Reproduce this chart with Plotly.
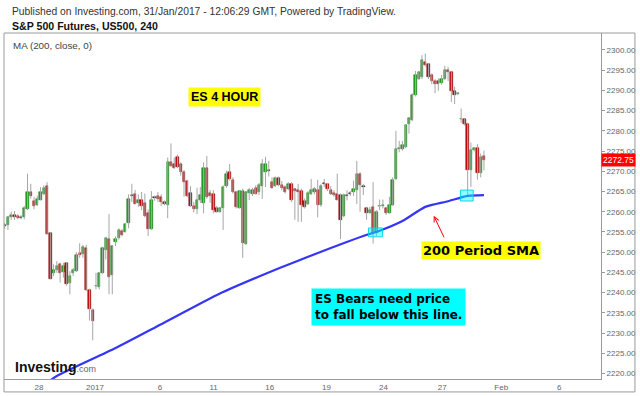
import plotly.graph_objects as go

# ---------------- data ----------------
idx = list(range(148))
opens = [2256.5, 2256.7, 2258.6, 2259.2, 2258.9, 2258.6, 2258.6, 2260.6, 2265.0, 2262.6,
         2261.6, 2263.0, 2264.5, 2266.3, 2254.8, 2244.8, 2245.7, 2247.0, 2245.0, 2247.4,
         2242.5, 2244.8, 2245.3, 2249.9, 2249.6, 2251.0, 2240.7, 2235.8, 2241.7, 2241.5,
         2244.9, 2250.5, 2253.2, 2244.3, 2252.4, 2253.5, 2255.3, 2255.1, 2257.3, 2264.0,
         2264.3, 2262.2, 2263.0, 2262.2, 2259.7, 2255.8, 2263.5, 2263.8, 2263.6, 2262.4,
         2261.6, 2272.2, 2271.8, 2273.6, 2271.8, 2269.8, 2267.6, 2264.6, 2261.4, 2260.6,
         2262.8, 2262.2, 2270.8, 2264.6, 2264.5, 2261.0, 2260.0, 2261.0, 2266.3, 2269.8,
         2267.9, 2264.9, 2261.0, 2265.1, 2252.1, 2264.6, 2264.5, 2265.9, 2264.9, 2266.3,
         2269.8, 2270.2, 2267.3, 2266.3, 2268.4, 2266.5, 2266.1, 2265.5, 2266.9, 2265.5,
         2265.3, 2265.1, 2262.7, 2261.9, 2264.5, 2264.9, 2265.3, 2261.6, 2267.0, 2266.8,
         2265.3, 2264.6, 2264.3, 2264.1, 2258.9, 2264.0, 2264.5, 2264.9, 2265.3, 2269.4,
         2266.2, 2260.8, 2259.7, 2261.2, 2254.7, 2261.3, 2261.4, 2260.8, 2259.6, 2261.6,
         2268.1, 2275.5, 2275.5, 2276.0, 2281.8, 2282.6, 2288.8, 2292.8, 2293.4, 2297.1,
         2296.4, 2293.8, 2292.3, 2292.3, 2291.8, 2292.8, 2295.0, 2294.5, 2289.9, 2289.2,
         2282.8, 2282.8, 2281.7, 2270.2, 2275.2, 2275.7, 2269.5, 2273.8]
highs = [2257.2, 2259.0, 2260.0, 2260.2, 2259.4, 2259.2, 2261.4, 2269.4, 2266.9, 2263.7,
         2264.0, 2266.1, 2266.5, 2267.3, 2255.0, 2247.0, 2247.8, 2247.4, 2247.4, 2247.6,
         2245.3, 2246.1, 2250.0, 2252.2, 2251.8, 2251.8, 2241.0, 2236.1, 2244.9, 2245.1,
         2251.4, 2253.7, 2259.4, 2251.8, 2253.9, 2255.9, 2255.7, 2257.1, 2264.3, 2266.9,
         2265.4, 2264.3, 2264.9, 2264.5, 2260.6, 2265.1, 2264.0, 2264.9, 2264.3, 2262.8,
         2273.4, 2276.9, 2273.4, 2274.1, 2272.2, 2270.3, 2267.9, 2266.3, 2262.4, 2265.9,
         2266.1, 2272.2, 2273.8, 2265.4, 2265.3, 2261.4, 2261.2, 2266.5, 2270.2, 2271.8,
         2268.5, 2265.1, 2265.4, 2265.7, 2265.1, 2265.9, 2265.9, 2266.5, 2267.1, 2273.0,
         2273.6, 2272.6, 2268.5, 2268.7, 2268.7, 2267.6, 2266.5, 2267.3, 2267.3, 2265.7,
         2266.9, 2265.7, 2263.3, 2265.1, 2268.1, 2266.1, 2267.9, 2266.9, 2268.1, 2267.1,
         2266.3, 2265.3, 2269.4, 2264.5, 2264.5, 2265.3, 2265.1, 2267.7, 2272.6, 2269.8,
         2266.9, 2261.2, 2261.2, 2267.3, 2260.4, 2263.0, 2263.0, 2261.2, 2263.7, 2268.5,
         2280.0, 2277.5, 2277.5, 2281.7, 2283.4, 2289.3, 2294.8, 2294.8, 2298.7, 2299.1,
         2296.7, 2294.2, 2292.8, 2293.0, 2293.8, 2296.1, 2295.8, 2294.6, 2290.9, 2289.6,
         2285.5, 2283.1, 2282.0, 2277.1, 2276.0, 2276.7, 2274.4, 2275.1]
lows = [2255.8, 2255.5, 2258.0, 2258.0, 2258.1, 2258.1, 2258.1, 2260.4, 2263.2, 2260.6,
        2261.4, 2262.8, 2264.1, 2254.3, 2243.3, 2244.1, 2244.9, 2242.5, 2243.7, 2241.7,
        2239.6, 2244.1, 2245.1, 2248.6, 2248.6, 2240.4, 2233.1, 2228.2, 2240.8, 2240.8,
        2244.7, 2248.2, 2239.6, 2239.6, 2251.5, 2253.1, 2253.9, 2254.9, 2255.9, 2262.4,
        2261.9, 2261.2, 2260.4, 2258.6, 2254.0, 2255.5, 2262.7, 2262.4, 2261.4, 2261.6,
        2258.4, 2271.1, 2270.6, 2270.8, 2268.9, 2263.7, 2263.6, 2261.2, 2259.8, 2259.4,
        2262.2, 2259.6, 2263.2, 2262.2, 2259.6, 2259.8, 2259.8, 2255.5, 2265.9, 2267.7,
        2264.5, 2260.8, 2260.8, 2248.6, 2251.8, 2262.9, 2263.9, 2264.3, 2264.1, 2263.2,
        2266.1, 2268.7, 2265.7, 2266.1, 2266.3, 2265.3, 2264.5, 2265.3, 2262.4, 2258.0,
        2257.5, 2257.5, 2260.8, 2261.6, 2264.1, 2264.3, 2258.6, 2261.2, 2266.1, 2265.1,
        2264.1, 2263.7, 2262.8, 2253.2, 2258.6, 2262.8, 2263.9, 2263.9, 2261.9, 2260.0,
        2264.1, 2258.0, 2259.5, 2252.1, 2253.9, 2260.4, 2260.8, 2259.2, 2259.5, 2261.4,
        2267.9, 2274.7, 2275.1, 2275.7, 2279.3, 2282.4, 2288.5, 2292.6, 2292.8, 2295.9,
        2292.8, 2291.5, 2289.3, 2289.9, 2291.4, 2292.6, 2292.3, 2287.1, 2286.6, 2288.9,
        2282.0, 2281.3, 2264.0, 2266.1, 2274.9, 2267.9, 2268.5, 2270.2]
closes = [2256.5, 2258.6, 2259.1, 2258.6, 2258.4, 2258.6, 2261.0, 2265.0, 2263.9, 2261.5,
          2263.2, 2264.9, 2265.9, 2254.5, 2243.3, 2245.7, 2246.7, 2244.8, 2246.5, 2242.1,
          2244.1, 2245.5, 2249.4, 2249.2, 2251.3, 2240.7, 2236.0, 2233.1, 2241.6, 2244.9,
          2251.0, 2253.5, 2243.9, 2251.6, 2253.3, 2255.5, 2254.3, 2256.9, 2263.2, 2264.0,
          2262.0, 2263.0, 2261.4, 2258.9, 2255.7, 2262.8, 2263.5, 2263.2, 2262.4, 2261.9,
          2272.2, 2271.4, 2270.8, 2271.0, 2269.8, 2267.3, 2263.8, 2261.4, 2260.6, 2263.0,
          2264.1, 2270.8, 2263.6, 2263.8, 2260.4, 2260.0, 2260.8, 2266.1, 2269.4, 2268.1,
          2264.9, 2261.2, 2265.1, 2252.2, 2264.9, 2265.4, 2265.3, 2264.5, 2266.5, 2271.9,
          2271.9, 2270.2, 2265.9, 2268.4, 2266.5, 2265.9, 2264.9, 2266.9, 2262.8, 2265.1,
          2264.9, 2261.6, 2261.2, 2264.6, 2265.3, 2265.5, 2261.6, 2266.3, 2267.0, 2265.5,
          2264.3, 2264.1, 2263.0, 2257.9, 2264.1, 2264.0, 2264.5, 2265.5, 2269.4, 2266.5,
          2266.2, 2259.7, 2260.5, 2254.6, 2260.0, 2261.5, 2261.7, 2259.6, 2261.6, 2267.9,
          2275.5, 2275.7, 2276.5, 2281.4, 2283.1, 2288.9, 2293.8, 2294.5, 2297.5, 2296.3,
          2293.4, 2292.2, 2291.5, 2291.5, 2292.8, 2295.0, 2294.6, 2289.9, 2288.9, 2289.4,
          2282.9, 2281.7, 2270.4, 2275.2, 2275.7, 2269.5, 2273.6, 2272.75]

# 200-period moving average, read at selected candles
ma_idx = [14, 16, 34, 48, 66, 78, 90, 110, 115, 122, 129, 136, 142, 147]
ma_val = [2218.3, 2219.4, 2226.3, 2232.2, 2239.8, 2244.0, 2247.9, 2254.0,
          2255.3, 2257.7, 2261.2, 2262.6, 2263.9, 2264.1]

xtick_pos = [10.5, 27.7, 47.6, 64.1, 81.3, 98.7, 116.2, 134.2, 152.3, 170.1]
xtick_text = ["28", "2017", "6", "11", "16", "19", "24", "27", "Feb", "6"]
ytick_vals = list(range(2220, 2301, 5))
last_price = closes[-1]

# ---------------- figure ----------------
W, H = 640, 396
ML, MR, MT, MB = 4, 38, 33, 15
PW, PH = W - ML - MR, H - MT - MB


def px(x):
    return (x - ML) / PW


def py(y):
    return (H - MB - y) / PH


FONT = "Liberation Sans, Arial, sans-serif"
BOLDF = "DejaVu Sans, Verdana, sans-serif"

wx, wy = [], []
for i, h, l in zip(idx, highs, lows):
    wx += [i, i, None]
    wy += [l, h, None]

bases, heights, fills, edges = [], [], [], []
for o, c in zip(opens, closes):
    d = c - o
    if abs(d) < 0.05:
        bases.append(o - 0.13)
        heights.append(0.26)
        fills.append("#222222")
        edges.append("#111111")
    else:
        bases.append(min(o, c))
        heights.append(abs(d))
        if d > 0:
            fills.append("#1fa51f")
            edges.append("#0c6a0c")
        else:
            fills.append("#cc0a0a")
            edges.append("#7a0000")

fig = go.Figure()
fig.add_trace(go.Scatter(x=wx, y=wy, mode="lines",
                         line=dict(color="#a6a6a6", width=1),
                         hoverinfo="skip", showlegend=False))
fig.add_trace(go.Bar(x=idx, y=heights, base=bases, width=0.72,
                     marker=dict(color=fills, line=dict(color=edges, width=0.5)),
                     showlegend=False, hoverinfo="skip"))
fig.add_trace(go.Scatter(x=ma_idx, y=ma_val, mode="lines",
                         line=dict(color="#3535f8", width=2.2, shape="spline", smoothing=0.6),
                         showlegend=False, hoverinfo="skip"))

shapes = [
    # outer frame
    dict(type="rect", xref="paper", yref="paper", x0=px(4), x1=px(636), y0=py(394), y1=py(33),
         line=dict(color="#9a9a9a", width=1), fillcolor="rgba(0,0,0,0)", layer="above"),
    # cyan highlight boxes
    dict(type="rect", xref="x", yref="y", x0=111.6, x1=115.9, y0=2253.8, y1=2256.0,
         line=dict(color="rgba(0,210,230,0.9)", width=1), fillcolor="rgba(0,255,255,0.45)", layer="above"),
    dict(type="rect", xref="x", yref="y", x0=139.8, x1=143.7, y0=2262.65, y1=2265.35,
         line=dict(color="rgba(0,210,230,0.9)", width=1), fillcolor="rgba(0,255,255,0.45)", layer="above"),
]

annotations = [
    dict(xref="paper", yref="paper", x=px(10), y=py(11), xanchor="left", yanchor="middle",
         text="Published on Investing.com, 31/Jan/2017 - 12:06:29 GMT, Powered by TradingView.",
         showarrow=False, font=dict(family=FONT, size=10.3, color="#333333")),
    dict(xref="paper", yref="paper", x=px(10), y=py(26), xanchor="left", yanchor="middle",
         text="<b>S&P 500 Futures, US500, 240</b>",
         showarrow=False, font=dict(family=FONT, size=10.6, color="#111111")),
    dict(xref="paper", yref="paper", x=px(11), y=py(46), xanchor="left", yanchor="middle",
         text="MA (200, close, 0)", showarrow=False,
         font=dict(family=FONT, size=9.8, color="#444444")),
    dict(xref="paper", yref="paper", x=px(225), y=py(97), xanchor="center", yanchor="middle",
         text="<b>ES 4 HOUR</b>", showarrow=False, bgcolor="#ffff00", borderpad=2,
         font=dict(family=FONT, size=12.5, color="#000000")),
    dict(xref="paper", yref="paper", x=px(482), y=py(252), xanchor="center", yanchor="middle",
         text="<b>200 Period SMA</b>", showarrow=False, bgcolor="#ffff00", borderpad=1,
         font=dict(family=BOLDF, size=13, color="#000000")),
    dict(xref="paper", yref="paper", x=px(389), y=py(309), xanchor="center", yanchor="middle",
         text="<b>ES Bears need price<br>to fall below this line.</b>", align="left",
         showarrow=False, bgcolor="#00ffff", borderpad=3,
         font=dict(family=BOLDF, size=12, color="#000000")),
    # red arrow pointing at the SMA
    dict(xref="x", yref="y", x=131.6, y=2259.0, ax=11, ay=23, axref="pixel", ayref="pixel",
         text="", showarrow=True, arrowhead=5, arrowsize=1, arrowwidth=1, arrowcolor="#ff0000"),
    # last price label
    dict(xref="paper", yref="y", x=1, y=last_price, xanchor="left", yanchor="middle",
         text=f"{last_price:.2f}", showarrow=False, bgcolor="#ff0000", borderpad=1,
         font=dict(family=FONT, size=8.5, color="#ffffff")),
    # logo
    dict(xref="paper", yref="paper", x=px(13), y=py(369), xanchor="left", yanchor="middle",
         text="<b>Investing</b><span style='font-size:9px;color:#666666'>.com</span>",
         showarrow=False, font=dict(family=FONT, size=14, color="#111111")),
]

fig.update_layout(
    width=W, height=H,
    margin=dict(l=ML, r=MR, t=MT, b=MB, pad=0),
    paper_bgcolor="#ffffff", plot_bgcolor="#ffffff",
    showlegend=False, hovermode=False, bargap=0,
    shapes=shapes, annotations=annotations,
    xaxis=dict(range=[-0.21, 182.9], tickvals=xtick_pos, ticktext=xtick_text,
               showgrid=False, zeroline=False, showline=True, linecolor="#9a9a9a",
               linewidth=1, ticks="", tickfont=dict(family=FONT, size=8, color="#666666"),
               fixedrange=True),
    yaxis=dict(range=[2218.65, 2304.18], side="right", tickvals=ytick_vals,
               tickformat=".2f", ticks="outside", ticklen=3, tickcolor="#9a9a9a",
               showgrid=False, zeroline=False, showline=True, linecolor="#9a9a9a",
               linewidth=1, tickfont=dict(family=FONT, size=8, color="#666666"),
               fixedrange=True),
)

fig.write_html("out.html", config={"displayModeBar": False})
